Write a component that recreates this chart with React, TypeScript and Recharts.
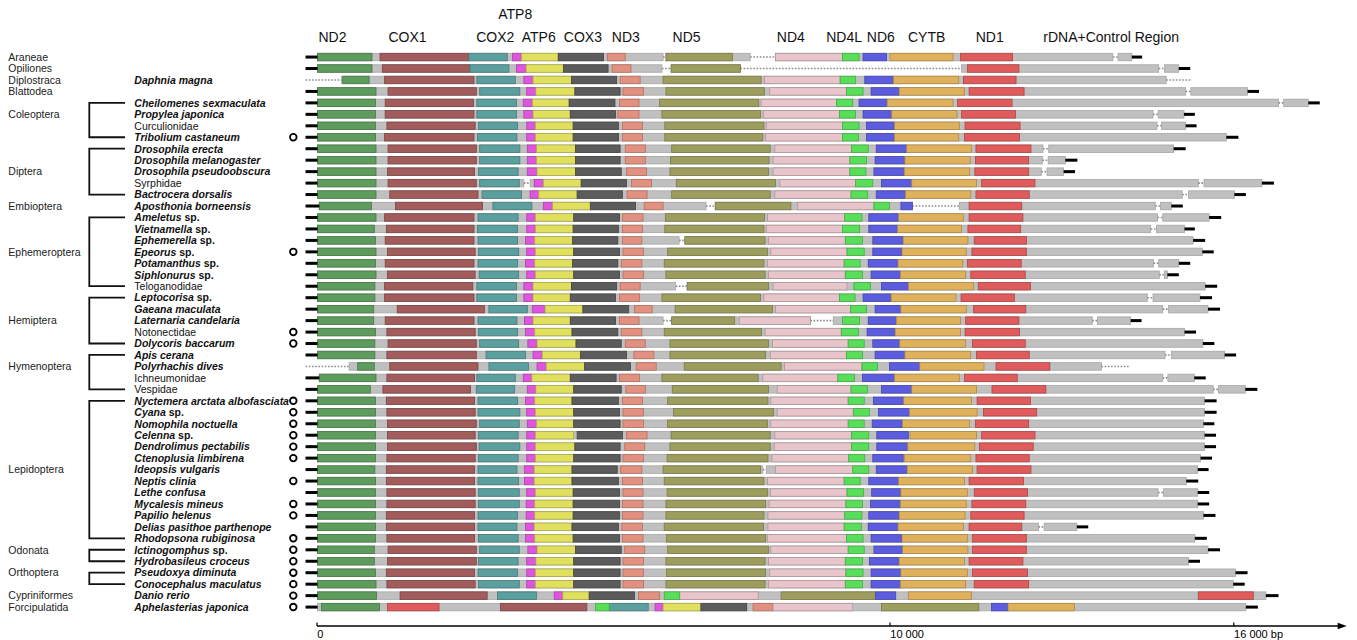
import React from 'react';
import { BarChart, Bar, XAxis, YAxis, ReferenceLine } from 'recharts';

type Span = [number, number];
type MaybeSpan = Span | null;

// Row keys (order name where the row has no species label)
const keys = [
  'Araneae', 'Opiliones', 'Daphnia magna', 'Blattodea', 'Cheilomenes sexmaculata', 'Propylea japonica',
  'Curculionidae', 'Tribolium castaneum', 'Drosophila erecta', 'Drosophila melanogaster',
  'Drosophila pseudoobscura', 'Syrphidae', 'Bactrocera dorsalis', 'Aposthonia borneensis', 'Ameletus sp.',
  'Vietnamella sp.', 'Ephemerella sp.', 'Epeorus sp.', 'Potamanthus sp.', 'Siphlonurus sp.', 'Teloganodidae',
  'Leptocorisa sp.', 'Gaeana maculata', 'Laternaria candelaria', 'Notonectidae', 'Dolycoris baccarum',
  'Apis cerana', 'Polyrhachis dives', 'Ichneumonidae', 'Vespidae', 'Nyctemera arctata albofasciata',
  'Cyana sp.', 'Nomophila noctuella', 'Celenna sp.', 'Dendrolimus pectabilis', 'Ctenoplusia limbirena',
  'Ideopsis vulgaris', 'Neptis clinia', 'Lethe confusa', 'Mycalesis mineus', 'Papilio helenus',
  'Delias pasithoe parthenope', 'Rhodopsona rubiginosa', 'Ictinogomphus sp.', 'Hydrobasileus croceus',
  'Pseudoxya diminuta', 'Conocephalus maculatus', 'Danio rerio', 'Aphelasterias japonica',
];
const unnamed = ['Araneae', 'Opiliones', 'Blattodea'];

const orders: { name: string; from: number; to: number }[] = [
  { name: 'Araneae', from: 0, to: 0 },
  { name: 'Opiliones', from: 1, to: 1 },
  { name: 'Diplostraca', from: 2, to: 2 },
  { name: 'Blattodea', from: 3, to: 3 },
  { name: 'Coleoptera', from: 4, to: 7 },
  { name: 'Diptera', from: 8, to: 12 },
  { name: 'Embioptera', from: 13, to: 13 },
  { name: 'Ephemeroptera', from: 14, to: 20 },
  { name: 'Hemiptera', from: 21, to: 25 },
  { name: 'Hymenoptera', from: 26, to: 29 },
  { name: 'Lepidoptera', from: 30, to: 42 },
  { name: 'Odonata', from: 43, to: 44 },
  { name: 'Orthoptera', from: 45, to: 46 },
  { name: 'Cypriniformes', from: 47, to: 47 },
  { name: 'Forcipulatida', from: 48, to: 48 },
];

// rows marked with an open circle
const marked = [7, 17, 24, 25, 30, 31, 32, 33, 34, 35, 37, 39, 40, 42, 43, 44, 45, 46, 47, 48];

// gene spans in bp, one per row
const ND2: MaybeSpan[] = [
  [10, 960], [10, 960], [450, 910], [10, 1030], [10, 1020], [10, 1020], [10, 1020], [10, 1020], [10, 1030], [10, 1030],
  [10, 1030], [10, 1030], [10, 1030], [40, 950], [10, 1030], [10, 1000], [10, 1020], [10, 1030], [10, 1020], [10, 1030],
  [10, 1010], [10, 1010], [10, 990], [10, 990], [10, 1020], [10, 1010], [10, 1010], [710, 1000], [40, 1030], [10, 930],
  [10, 1020], [10, 1020], [10, 1020], [10, 1020], [10, 1020], [10, 1020], [10, 1010], [10, 1020], [10, 1020], [10, 1020],
  [10, 1020], [10, 1020], [10, 1020], [10, 1000], [10, 1000], [10, 1020], [10, 1030], [10, 1040], [80, 1090],
];
const COX1: MaybeSpan[] = [
  [1100, 2650], [1140, 2670], [1180, 2740], [1240, 2780], [1190, 2730], [1190, 2740], [1220, 2760], [1180, 2740], [1240, 2780], [1240, 2780],
  [1230, 2750], [1240, 2780], [1270, 2810], [1370, 2890], [1180, 2740], [1210, 2740], [1190, 2740], [1230, 2760], [1190, 2740], [1230, 2760],
  [1180, 2720], [1180, 2740], [1400, 2920], [1190, 2740], [1220, 2760], [1240, 2780], [1220, 2780], [1270, 2810], [1220, 2750], [1150, 2680],
  [1210, 2750], [1220, 2760], [1230, 2780], [1230, 2760], [1230, 2780], [1220, 2760], [1210, 2750], [1210, 2750], [1220, 2760], [1220, 2760],
  [1210, 2750], [1210, 2750], [1220, 2750], [1240, 2780], [1230, 2780], [1210, 2750], [1220, 2760], [1450, 2970], [3200, 4710],
];
const COX2: MaybeSpan[] = [
  [2650, 3320], [2670, 3350], [2790, 3460], [2840, 3540], [2790, 3480], [2790, 3480], [2820, 3500], [2800, 3490], [2840, 3540], [2840, 3540],
  [2820, 3510], [2840, 3530], [2880, 3570], [3070, 3750], [2810, 3510], [2800, 3500], [2810, 3500], [2820, 3520], [2810, 3500], [2830, 3520],
  [2790, 3480], [2790, 3480], [3000, 3670], [2810, 3490], [2820, 3500], [2840, 3520], [2950, 3640], [3000, 3690], [2790, 3460], [2780, 3450],
  [2810, 3500], [2810, 3540], [2840, 3530], [2820, 3510], [2830, 3540], [2820, 3510], [2810, 3490], [2810, 3520], [2820, 3530], [2820, 3530],
  [2810, 3500], [2810, 3490], [2820, 3510], [2840, 3530], [2820, 3510], [2810, 3500], [2820, 3530], [3150, 3830], [5100, 5780],
];
const ATP8: MaybeSpan[] = [
  [3410, 3570], [3480, 3650], [3610, 3770], [3660, 3820], [3600, 3760], [3610, 3770], [3660, 3810], [3660, 3810], [3670, 3830], [3670, 3830],
  [3670, 3840], [3790, 3950], [3720, 3870], [3950, 4110], [3660, 3810], [3660, 3810], [3640, 3800], [3660, 3810], [3640, 3800], [3660, 3810],
  [3610, 3770], [3610, 3770], [3760, 3980], [3620, 3770], [3640, 3800], [3680, 3840], [3770, 3930], [3840, 4000], [3600, 3750], [3670, 3820],
  [3640, 3800], [3660, 3810], [3670, 3830], [3660, 3810], [3660, 3810], [3660, 3810], [3620, 3790], [3620, 3790], [3660, 3810], [3650, 3800],
  [3650, 3800], [3640, 3790], [3640, 3800], [3680, 3840], [3660, 3820], [3660, 3810], [3660, 3810], [4140, 4290], [5900, 6040],
];
const ATP6: MaybeSpan[] = [
  [3570, 4210], [3650, 4300], [3770, 4440], [3820, 4500], [3760, 4400], [3770, 4420], [3810, 4470], [3810, 4470], [3830, 4510], [3830, 4510],
  [3840, 4510], [3950, 4610], [3870, 4540], [4110, 4770], [3810, 4480], [3810, 4470], [3800, 4460], [3810, 4480], [3800, 4460], [3810, 4480],
  [3770, 4440], [3770, 4420], [3980, 4640], [3770, 4420], [3800, 4450], [3840, 4520], [3930, 4600], [4000, 4670], [3750, 4420], [3820, 4480],
  [3800, 4450], [3810, 4480], [3830, 4480], [3810, 4480], [3810, 4500], [3810, 4480], [3790, 4450], [3790, 4450], [3810, 4470], [3800, 4470],
  [3800, 4470], [3790, 4450], [3800, 4470], [3840, 4510], [3820, 4480], [3810, 4480], [3810, 4480], [4290, 4750], [6040, 6700],
];
const COX3: MaybeSpan[] = [
  [4210, 5000], [4300, 5080], [4440, 5230], [4500, 5290], [4400, 5200], [4420, 5210], [4470, 5260], [4470, 5260], [4510, 5290], [4510, 5290],
  [4510, 5310], [4610, 5400], [4540, 5330], [4770, 5560], [4480, 5280], [4470, 5260], [4460, 5250], [4480, 5280], [4460, 5250], [4480, 5280],
  [4440, 5230], [4420, 5210], [4640, 5440], [4420, 5210], [4450, 5250], [4520, 5310], [4600, 5400], [4670, 5470], [4420, 5220], [4480, 5310],
  [4450, 5260], [4480, 5280], [4480, 5290], [4540, 5330], [4500, 5290], [4480, 5290], [4450, 5240], [4450, 5260], [4470, 5280], [4470, 5280],
  [4470, 5280], [4450, 5260], [4470, 5280], [4510, 5310], [4480, 5290], [4480, 5290], [4480, 5290], [4750, 5540], [6700, 7500],
];
const ND3: MaybeSpan[] = [
  [5070, 5380], [5150, 5480], [5290, 5640], [5340, 5700], [5280, 5620], [5250, 5620], [5330, 5680], [5330, 5680], [5380, 5730], [5380, 5730],
  [5400, 5750], [5490, 5840], [5410, 5760], [5710, 6040], [5330, 5690], [5330, 5680], [5330, 5670], [5340, 5700], [5310, 5670], [5340, 5700],
  [5290, 5640], [5280, 5630], [5540, 5850], [5280, 5620], [5310, 5670], [5380, 5730], [5530, 5880], [5570, 5920], [5280, 5630], [5390, 5730],
  [5330, 5680], [5340, 5700], [5340, 5700], [5400, 5760], [5370, 5720], [5340, 5700], [5300, 5670], [5330, 5680], [5340, 5690], [5330, 5690],
  [5330, 5690], [5320, 5680], [5330, 5690], [5370, 5720], [5340, 5700], [5340, 5700], [5340, 5700], [5610, 5980], [7610, 7960],
];
const ND5: MaybeSpan[] = [
  [6090, 7250], [6180, 7390], [6040, 7750], [6090, 7810], [5980, 7710], [6020, 7740], [6070, 7800], [6070, 7780], [6190, 7910], [6170, 7890],
  [6160, 7880], [6270, 8000], [6190, 7910], [6950, 8270], [6080, 7810], [6070, 7800], [6420, 7820], [6120, 7860], [6060, 7800], [6090, 7820],
  [6460, 7880], [6020, 7740], [6250, 7950], [6190, 7290], [6060, 7760], [6160, 7880], [6160, 7830], [6410, 8100], [6020, 7700], [6200, 7880],
  [6120, 7870], [6220, 7970], [6120, 7860], [6180, 7910], [6160, 7910], [6110, 7870], [6040, 7740], [6060, 7800], [6110, 7860], [6090, 7830],
  [6090, 7800], [6060, 7790], [6100, 7830], [6120, 7880], [6090, 7820], [6100, 7830], [6090, 7820], [8100, 9750], [9850, 11550],
];
const ND4: MaybeSpan[] = [
  [8000, 9170], null, [7810, 9130], [7900, 9240], [7750, 9070], [7790, 9120], [7840, 9170], [7830, 9170], [7990, 9330], [7960, 9300],
  [7960, 9300], [8080, 9400], [7990, 9320], [8390, 9720], [7860, 9210], [7840, 9170], [7880, 9220], [7920, 9250], [7860, 9200], [7880, 9220],
  [7960, 9250], [7800, 9120], [8000, 9310], [7370, 8610], [7820, 9150], [7950, 9270], [7910, 9240], [8160, 9510], [7780, 9090], [8030, 9320],
  [7920, 9270], [8030, 9360], [7920, 9270], [7990, 9330], [7980, 9330], [7940, 9280], [8000, 9350], [7860, 9200], [7910, 9250], [7890, 9230],
  [7870, 9210], [7870, 9200], [7860, 9240], [7920, 9270], [7880, 9220], [7900, 9230], [7880, 9220], [6330, 7700], [7960, 9350],
];
const ND4L: MaybeSpan[] = [
  [9170, 9460], null, [9130, 9400], [9240, 9530], [9070, 9350], [9120, 9400], [9170, 9460], [9170, 9450], [9330, 9620], [9300, 9590],
  [9300, 9580], [9400, 9700], [9320, 9610], [9720, 9990], [9210, 9510], [9170, 9470], [9220, 9520], [9250, 9550], [9200, 9480], [9220, 9520],
  [9370, 9660], [9120, 9390], [9310, 9590], [9170, 9470], [9150, 9450], [9270, 9550], [9240, 9520], [9510, 9780], [9090, 9380], [9320, 9610],
  [9270, 9550], [9360, 9640], [9270, 9550], [9330, 9630], [9330, 9630], [9280, 9560], [9350, 9630], [9200, 9480], [9250, 9540], [9230, 9520],
  [9210, 9510], [9200, 9500], [9240, 9530], [9270, 9550], [9220, 9520], [9230, 9530], [9220, 9520], [6060, 6330], [4860, 5100],
];
const ND6: MaybeSpan[] = [
  [9530, 9940], null, [9560, 10060], [9670, 10160], [9460, 9950], [9530, 10030], [9590, 10080], [9590, 10080], [9760, 10290], [9740, 10260],
  [9720, 10250], [9850, 10380], [9760, 10270], [10190, 10390], [9630, 10150], [9630, 10130], [9700, 10230], [9700, 10210], [9620, 10140], [9670, 10180],
  [9850, 10320], [9530, 10020], [9740, 10190], [9620, 10110], [9600, 10090], [9700, 10170], [9740, 10260], [9990, 10520], [9520, 10080], [9850, 10380],
  [9710, 10240], [9800, 10340], [9690, 10220], [9770, 10320], [9770, 10310], [9700, 10230], [9760, 10300], [9630, 10150], [9680, 10190], [9660, 10180],
  [9630, 10160], [9620, 10140], [9670, 10210], [9720, 10220], [9640, 10160], [9670, 10190], [9670, 10180], [9750, 10100], [11770, 12060],
];
const CYTB: MaybeSpan[] = [
  [10000, 11100], null, [10060, 11200], [10160, 11300], [9950, 11100], [10030, 11170], [10080, 11210], [10080, 11200], [10290, 11420], [10260, 11400],
  [10250, 11390], [10380, 11510], [10270, 11410], null, [10150, 11280], [10130, 11250], [10230, 11360], [10210, 11330], [10140, 11270], [10180, 11320],
  [10320, 11460], [10020, 11150], [10190, 11330], [10110, 11230], [10090, 11230], [10170, 11320], [10260, 11410], [10520, 11640], [10080, 11210], [10380, 11510],
  [10240, 11420], [10340, 11520], [10220, 11390], [10350, 11510], [10310, 11480], [10250, 11410], [10300, 11440], [10150, 11300], [10190, 11350], [10180, 11330],
  [10160, 11310], [10140, 11280], [10210, 11350], [10220, 11360], [10160, 11300], [10190, 11350], [10180, 11320], [10320, 11420], [12060, 13220],
];
const ND1: MaybeSpan[] = [
  [11230, 12140], [11350, 12250], [11280, 12200], [11380, 12340], [11180, 12130], [11250, 12190], [11310, 12270], [11300, 12260], [11500, 12460], [11490, 12420],
  [11480, 12420], [11600, 12530], [11500, 12430], [11380, 12300], [11380, 12320], [11360, 12280], [11470, 12380], [11430, 12380], [11350, 12290], [11410, 12360],
  [11540, 12450], [11240, 12170], [11460, 12370], [11320, 12250], [11310, 12260], [11440, 12360], [11510, 12430], [11850, 12790], [11300, 12220], [11780, 12720],
  [11520, 12450], [11630, 12560], [11490, 12420], [11600, 12530], [11560, 12500], [11500, 12430], [11520, 12460], [11380, 12330], [11470, 12400], [11430, 12370],
  [11410, 12340], [11380, 12300], [11440, 12380], [11440, 12380], [11380, 12320], [11440, 12400], [11470, 12420], [15380, 16340], [1230, 2130],
];

// tRNA / rDNA / control region backbone pieces
const backbone: Span[][] = [
  [[10, 6040], [6090, 7560], [8000, 13890], [13980, 14220]],
  [[10, 6020], [6180, 7390], [11250, 14690], [14790, 15040]],
  [[430, 14820]],
  [[10, 15160], [15250, 16240]],
  [[10, 16780], [16870, 17300]],
  [[10, 14590], [14680, 15130]],
  [[10, 14660], [14740, 15160]],
  [[10, 15870]],
  [[10, 12670], [12770, 14950]],
  [[10, 12660], [12760, 13060]],
  [[10, 12640], [12740, 13030]],
  [[10, 3610], [3720, 15380], [15480, 16490]],
  [[10, 15100], [15210, 16010]],
  [[40, 6790], [6950, 10390], [11210, 14630], [14720, 14910]],
  [[10, 14670], [14760, 15570]],
  [[10, 14550], [14650, 15140]],
  [[10, 6320], [6420, 15290]],
  [[10, 15450]],
  [[10, 14600], [14690, 15040]],
  [[10, 14700], [14790, 14840]],
  [[10, 6260], [6460, 15500]],
  [[10, 14490], [14590, 15410]],
  [[10, 14760], [14860, 15550]],
  [[10, 6040], [6190, 8610], [9010, 13530], [13620, 14200]],
  [[10, 15140]],
  [[10, 15460]],
  [[10, 14800], [14910, 15840]],
  [[560, 13690]],
  [[40, 14760], [14850, 15310]],
  [[10, 15640], [15730, 16200]],
  [[10, 15490]],
  [[10, 15490]],
  [[10, 15470]],
  [[10, 15490]],
  [[10, 15490]],
  [[10, 15420]],
  [[10, 7780], [7840, 15370]],
  [[10, 15170]],
  [[10, 14680], [14770, 15370]],
  [[10, 15370]],
  [[10, 15470]],
  [[10, 12590], [12690, 13260]],
  [[10, 15320]],
  [[10, 15550]],
  [[10, 15210]],
  [[10, 16030]],
  [[10, 15990]],
  [[10, 16560]],
  [[10, 16210]],
];

// dotted stretches (missing / unsequenced parts)
const gaps: Span[][] = [
  [[6040, 6090], [7560, 8000], [13890, 13980]],
  [[6020, 6180], [7390, 11250], [14690, 14790]],
  [[-200, 430], [14820, 15270]],
  [[15160, 15250]],
  [[16780, 16870]],
  [[14590, 14680]],
  [[14660, 14740]],
  [],
  [[12670, 12770]],
  [[12660, 12760]],
  [[12640, 12740]],
  [[3610, 3720], [15380, 15480]],
  [[15100, 15210]],
  [[6790, 6950], [10390, 11210], [14630, 14720]],
  [[14670, 14760]],
  [[14550, 14650]],
  [[6320, 6420]],
  [],
  [[14600, 14690]],
  [[14700, 14790]],
  [[6260, 6460]],
  [[14490, 14590]],
  [[14760, 14860]],
  [[6040, 6190], [8610, 9010], [13530, 13620]],
  [],
  [],
  [[14800, 14910]],
  [[-200, 560], [13690, 14170]],
  [[14760, 14850]],
  [[15640, 15730]],
  [], [], [], [], [], [],
  [[7780, 7840]],
  [],
  [[14680, 14770]],
  [], [],
  [[12590, 12690]],
  [], [], [], [], [], [], [],
];

// flanking black ends
const tail: MaybeSpan[] = [
  [14220, 14400], [15040, 15240], null, [16240, 16440], [17300, 17500], [15130, 15320], [15160, 15350], [15870, 16080], [14950, 15160], [13060, 13270],
  [13030, 13230], [16490, 16700], [16010, 16210], [14910, 15110], [15570, 15780], [15140, 15320], [15290, 15500], [15450, 15650], [15040, 15240], [14840, 15040],
  [15500, 15710], [15410, 15620], [15550, 15760], [14200, 14390], [15140, 15340], [15460, 15660], [15840, 16040], null, [15310, 15510], [16200, 16410],
  [15490, 15700], [15490, 15700], [15470, 15660], [15490, 15690], [15490, 15690], [15420, 15620], [15370, 15560], [15170, 15380], [15370, 15570], [15370, 15570],
  [15470, 15680], [13260, 13460], [15320, 15530], [15550, 15760], [15210, 15410], [16030, 16240], [15990, 16190], [16560, 16780], [16210, 16420],
];
const lead: MaybeSpan[] = keys.map((_, i) =>
  i === 2 || i === 27 ? null : i === 13 || i === 28 ? [-200, 40] : [-200, 10],
);

const geneLabels = ['ND2', 'COX1', 'COX2', 'ATP8', 'ATP6', 'COX3', 'ND3', 'ND5', 'ND4', 'ND4L', 'ND6', 'CYTB', 'ND1', 'rDNA+Control Region'];
const geneLabelAt = [270, 1580, 3110, 3460, 3870, 4640, 5390, 6450, 8270, 9200, 9840, 10640, 11740, 13860];
const bpTicks = [0, 10000, 16000];
const bpTickLabels = ['0', '10 000', '16 000 bp'];

const genes: { name: string; fill: string; edge: string; spans: MaybeSpan[] }[] = [
  { name: 'ND2', fill: '#5d9c5d', edge: '#467846', spans: ND2 },
  { name: 'COX1', fill: '#a25c5c', edge: '#7c4444', spans: COX1 },
  { name: 'COX2', fill: '#5c9f9f', edge: '#467a7a', spans: COX2 },
  { name: 'ATP8', fill: '#df55df', edge: '#ad42ad', spans: ATP8 },
  { name: 'ATP6', fill: '#e0e05e', edge: '#adad48', spans: ATP6 },
  { name: 'COX3', fill: '#5c5c5c', edge: '#444444', spans: COX3 },
  { name: 'ND3', fill: '#e2907f', edge: '#b37163', spans: ND3 },
  { name: 'ND5', fill: '#9d9d5e', edge: '#7a7a48', spans: ND5 },
  { name: 'ND4', fill: '#e8c5cb', edge: '#b0959a', spans: ND4 },
  { name: 'ND4L', fill: '#58de58', edge: '#44ad44', spans: ND4L },
  { name: 'ND6', fill: '#5c5cde', edge: '#4646ad', spans: ND6 },
  { name: 'CYTB', fill: '#e0b15c', edge: '#ad8946', spans: CYTB },
  { name: 'ND1', fill: '#e05c5c', edge: '#ad4646', spans: ND1 },
];

const W = 1357;
const H = 640;
const TOP = 51.3;
const BOTTOM = 612.8;
const STEP = (BOTTOM - TOP) / keys.length;
const FONT = "'Liberation Sans', Arial, Helvetica, sans-serif";
const BAR = 7.5;

const rows = keys.map((key, i) => {
  const r: Record<string, unknown> = { key };
  genes.forEach((g) => {
    r[g.name] = g.spans[i] ?? undefined;
  });
  for (let k = 0; k < 4; k++) r['bb' + k] = backbone[i][k];
  for (let k = 0; k < 3; k++) r['gap' + k] = gaps[i][k];
  r.lead = lead[i] ?? undefined;
  r.tail = tail[i] ?? undefined;
  return r;
});

const ok = (p: any) => Number.isFinite(p.x) && Number.isFinite(p.width) && p.width > 0;

const Block = (p: any) =>
  ok(p) ? <rect x={p.x} y={p.y} width={p.width} height={p.height} fill={p.fill} stroke={p.stroke} strokeWidth={0.8} /> : <g />;

const Dotted = (p: any) =>
  ok(p) ? (
    <line x1={p.x} x2={p.x + p.width} y1={p.y + p.height / 2} y2={p.y + p.height / 2} stroke="#8c8c8c" strokeWidth={1.6} strokeDasharray="1.6 1.6" />
  ) : <g />;

const Tip = (p: any) =>
  ok(p) ? <rect x={p.x} y={p.y + p.height / 2 - 1.5} width={p.width} height={3} fill="#000" /> : <g />;

const Nothing = () => <g />;

const TaxonTick = (props: any) => {
  const { y, payload } = props;
  const i = keys.indexOf(payload.value);
  const name = unnamed.includes(payload.value) ? '' : payload.value;
  const family = name.endsWith('idae');
  const sp = name.endsWith(' sp.');
  const group = orders.find((o) => i >= o.from && i <= o.to);
  const labelRow = group ? Math.floor((group.from + group.to) / 2) : -1;
  return (
    <g>
      {group && labelRow === i && (
        <text x={8.3} y={y + 3.8} fontSize={10.5} fontFamily={FONT} fill="#222">
          {group.name}
        </text>
      )}
      {group && group.to > group.from && i === group.from && (
        <path
          d={`M125,${y} H89.3 V${y + (group.to - group.from) * STEP} H125`}
          fill="none"
          stroke="#111"
          strokeWidth={1.8}
        />
      )}
      {name && (
        <text
          x={134.3}
          y={y + 3.8}
          fontSize={10.5}
          fontFamily={FONT}
          fill="#111"
          fontWeight={family ? 'normal' : 'bold'}
          fontStyle={family || sp ? 'normal' : 'italic'}
        >
          {sp ? (
            <>
              <tspan fontStyle="italic">{name.slice(0, -4)}</tspan>
              <tspan> sp.</tspan>
            </>
          ) : (
            name
          )}
        </text>
      )}
      {marked.includes(i) && <circle cx={293.3} cy={y} r={3.3} fill="none" stroke="#000" strokeWidth={1.8} />}
    </g>
  );
};

const GeneTick = (props: any) => {
  const { x, payload } = props;
  const label = geneLabels[geneLabelAt.indexOf(payload.value)];
  return (
    <text x={x} y={label === 'ATP8' ? 19.3 : 41.7} textAnchor="middle" fontSize={14} fontFamily={FONT} fill="#111">
      {label}
    </text>
  );
};

const BpTick = (props: any) => {
  const { x, payload } = props;
  const label = bpTickLabels[bpTicks.indexOf(payload.value)];
  return (
    <g>
      <line x1={x} x2={x} y1={622.5} y2={626} stroke="#000" strokeWidth={1.2} />
      <text x={x + 0.3} y={638} fontSize={11} fontFamily={FONT} fill="#000">
        {label}
      </text>
    </g>
  );
};

// horizontal bp axis with an arrow head, dropped below the last row
const AxisArrow = (p: any) => {
  const y = p.y1 + (626 - (BOTTOM - STEP / 2));
  return (
    <g>
      <line x1={p.x1} x2={p.x2 - 6} y1={y} y2={y} stroke="#000" strokeWidth={1.3} />
      <path d={`M${p.x2},${y} L${p.x2 - 9},${y - 3.2} L${p.x2 - 9},${y + 3.2} Z`} fill="#000" />
    </g>
  );
};

export default function App() {
  return (
    <div style={{ position: 'absolute', left: 0, top: 0, background: '#fff' }}>
      <BarChart
        width={W}
        height={H}
        data={rows}
        layout="vertical"
        barSize={BAR}
        barGap={-BAR}
        margin={{ top: TOP - 40, right: 8.6, bottom: H - BOTTOM - 20, left: 0 }}
      >
        <XAxis
          xAxisId="genes"
          orientation="top"
          type="number"
          domain={[-300, 18000]}
          ticks={geneLabelAt}
          tick={<GeneTick />}
          axisLine={false}
          tickLine={false}
          height={40}
          interval={0}
        />
        <XAxis
          type="number"
          domain={[-300, 18000]}
          ticks={bpTicks}
          tick={<BpTick />}
          axisLine={false}
          tickLine={false}
          height={20}
          interval={0}
        />
        <YAxis
          type="category"
          dataKey="key"
          width={299.8}
          axisLine={false}
          tickLine={false}
          interval={0}
          tick={<TaxonTick />}
        />
        {/* keeps the gene-name axis bound to the same rows and bp range */}
        <Bar xAxisId="genes" dataKey="lead" fill="none" shape={Nothing} isAnimationActive={false} />
        {[0, 1, 2, 3].map((k) => (
          <Bar key={'bb' + k} dataKey={'bb' + k} fill="#c0c0c0" stroke="#a6a6a6" shape={Block} isAnimationActive={false} />
        ))}
        {[0, 1, 2].map((k) => (
          <Bar key={'gap' + k} dataKey={'gap' + k} fill="none" shape={Dotted} isAnimationActive={false} />
        ))}
        {genes.map((g) => (
          <Bar key={g.name} dataKey={g.name} fill={g.fill} stroke={g.edge} shape={Block} isAnimationActive={false} />
        ))}
        <Bar dataKey="lead" fill="#000" shape={Tip} isAnimationActive={false} />
        <Bar dataKey="tail" fill="#000" shape={Tip} isAnimationActive={false} />
        <ReferenceLine
          segment={[
            { x: 0, y: keys[keys.length - 1] },
            { x: 17970, y: keys[keys.length - 1] },
          ]}
          ifOverflow="visible"
          shape={AxisArrow}
        />
      </BarChart>
    </div>
  );
}
